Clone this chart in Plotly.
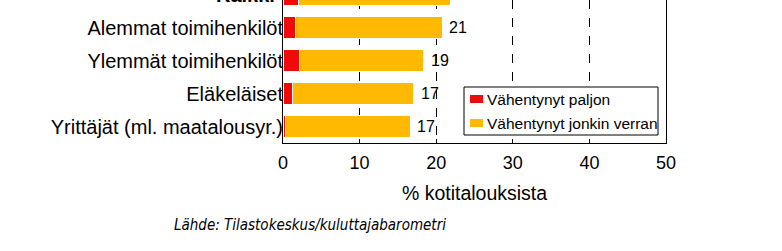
import plotly.graph_objects as go

# Data (top to bottom)
categories = ["Kaikki", "Alemmat toimihenkilöt", "Ylemmät toimihenkilöt",
              "Eläkeläiset", "Yrittäjät (ml. maatalousyr.)"]
paljon = [2.0, 1.6, 2.1, 1.2, 0.3]
jonkin_verran = [19.9, 19.2, 16.3, 15.9, 16.3]
total_labels = ["22", "21", "19", "17", "17"]
series_names = ["Vähentynyt paljon", "Vähentynyt jonkin verran"]
x_ticks = [0, 10, 20, 30, 40, 50]
x_title = "% kotitalouksista"
source = "Lähde: Tilastokeskus/kuluttajabarometri"

RED = "#F00A0A"
YEL = "#FFB900"
FONT = "Liberation Sans, Arial, sans-serif"

fig = go.Figure()
fig.add_trace(go.Bar(y=categories, x=paljon, orientation="h", name=series_names[0],
                     marker=dict(color=RED, line=dict(color="white", width=1)),
                     width=0.66, showlegend=False))
fig.add_trace(go.Bar(y=categories, x=jonkin_verran, orientation="h", name=series_names[1],
                     marker=dict(color=YEL, line=dict(color="white", width=1)),
                     width=0.66, showlegend=False))

# Value labels at the end of each stacked bar
for cat, a, b, lab in zip(categories, paljon, jonkin_verran, total_labels):
    fig.add_annotation(x=a + b, xref="x", y=cat, yref="y", text=lab, showarrow=False,
                       xanchor="left", yanchor="middle", xshift=5,
                       font=dict(size=16, family=FONT, color="black"))

L, R, B = 283, 116, 108
W, H = 782, 251
plot_h = H - B

def px_x(p):
    return (p - L) / (W - L - R)

def px_y(p):
    return (plot_h - p) / plot_h

fig.update_layout(
    width=W, height=H, barmode="stack",
    margin=dict(l=L, r=R, t=0, b=B, pad=0),
    paper_bgcolor="white", plot_bgcolor="white",
    font=dict(family=FONT, color="black"),
    xaxis=dict(range=[0, 50], tickvals=x_ticks, ticks="inside", ticklen=4,
               tickcolor="black", showline=True, linecolor="black", linewidth=1,
               showgrid=True, gridcolor="black", griddash="dash", gridwidth=1,
               zeroline=False, tickfont=dict(size=18, family=FONT), ticklabelstandoff=3,
               title=dict(text=x_title, font=dict(size=19.5, family=FONT), standoff=14)),
    yaxis=dict(type="category", categoryorder="array", categoryarray=categories,
               range=[4.5, 4.5 - plot_h / 33.0], showline=True, mirror=True,
               linecolor="black", linewidth=1, ticks="", showgrid=False,
               tickfont=dict(size=20, family=FONT), ticklabelstandoff=-5),
)

# Partially visible top category label (cut off by the frame, as in the source)
fig.add_annotation(x=px_x(277), xref="paper", y=px_y(-5), yref="paper",
                   text="<b>" + categories[0] + "</b>",
                   showarrow=False, xanchor="right", yanchor="middle",
                   font=dict(size=20, family=FONT, color="black"))

# Legend drawn as box with swatches
fig.add_shape(type="rect", xref="paper", yref="paper",
              x0=px_x(464), x1=px_x(658), y0=px_y(135), y1=px_y(87),
              line=dict(color="black", width=1), fillcolor="white", layer="above")
for i, (nm, col) in enumerate(zip(series_names, [RED, YEL])):
    cy = 99 + 24 * i
    fig.add_shape(type="rect", xref="paper", yref="paper",
                  x0=px_x(470), x1=px_x(483), y0=px_y(cy + 4), y1=px_y(cy - 4),
                  line=dict(width=0), fillcolor=col, layer="above")
    fig.add_annotation(x=px_x(485), xref="paper", y=px_y(cy), yref="paper", text=nm,
                       showarrow=False, xanchor="left", yanchor="middle",
                       font=dict(size=15.5, family=FONT, color="black"))

fig.add_annotation(x=px_x(172), xref="paper", y=px_y(225), yref="paper",
                   text="<i>" + source + "</i>", showarrow=False, xanchor="left",
                   yanchor="middle",
                   font=dict(size=15, family="DejaVu Sans Condensed, DejaVu Sans", color="black"))

fig.write_html("out.html")
